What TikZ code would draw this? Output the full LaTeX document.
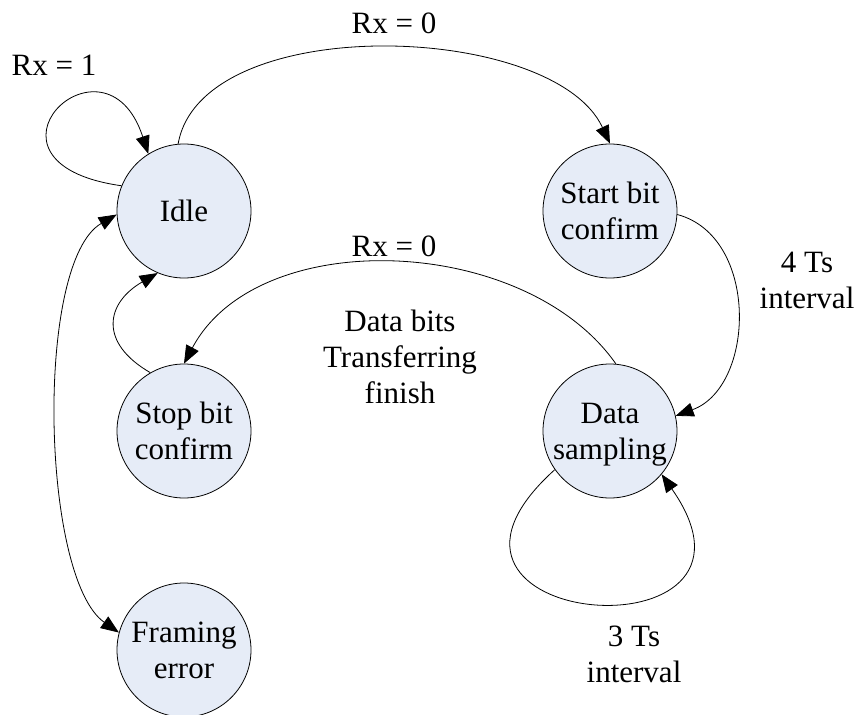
\documentclass[tikz,border=0pt]{standalone}
\usepackage{fontspec}
\setmainfont{Liberation Serif}
\usetikzlibrary{arrows.meta}
\definecolor{statefill}{RGB}{230,236,247}

\begin{document}
\begin{tikzpicture}[x=1pt,y=1pt,line width=0.8pt,
    >={Triangle[length=18pt,width=14pt]}]

        \useasboundingbox (0,0) rectangle (860,-715);

        \begin{scope}[every node/.style={circle,draw,fill=statefill,minimum size=134pt,
            inner sep=0pt,align=center,text depth=0pt,font=\fontsize{31}{36}\selectfont}]
          \node (idle)  at (184,-211) {Idle};
          \node (start) at (610,-211) {Start bit\\confirm};
          \node (data)  at (610,-431) {Data\\sampling};
          \node (stop)  at (184,-431) {Stop bit\\confirm};
          \node (err)   at (184,-650) {Framing\\error};
        \end{scope}

        \begin{scope}[every node/.style={align=center,text depth=0pt,font=\fontsize{31}{36}\selectfont}]
          \node (rxone)   at (54,-65)   {Rx = 1};
          \node (rxtop)   at (394,-23)  {Rx = 0};
          \node (rxmid)   at (394,-246) {Rx = 0};
          \node (finish)  at (400,-357) {Data bits\\Transferring\\finish};
          \node (fourts)  at (807,-280) {4 Ts\\interval};
          \node (threets) at (634,-654) {3 Ts\\interval};
        \end{scope}

        \begin{scope}[every edge/.style={draw,->}]
          \path (idle.158)  edge[out=172,in=108,out distance=165pt,in distance=140pt] (idle.122);
          \path (idle.95)   edge[out=80,in=115,distance=135pt] (start.90);
          \path (start.-3)  edge[out=-15,in=20,distance=85pt] (data.13);
          \path (data.85)   edge[out=125,in=62,distance=158pt] (stop.90);
          \path (stop.120)  edge[out=150,in=-150,distance=60pt] (idle.-113);
          \path (idle.183)  edge[<->,out=210,in=145,distance=95pt] (err.165);
          \path (data.215)  edge[out=222,in=-55,out distance=240pt,in distance=230pt] (data.-40);
        \end{scope}

      \end{tikzpicture}
\end{document}
